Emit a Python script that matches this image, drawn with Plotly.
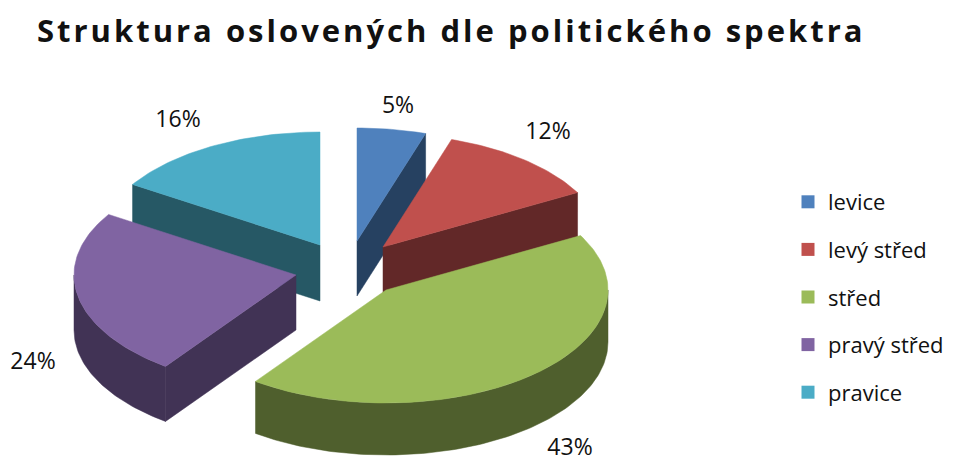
import numpy as np
import plotly.graph_objects as go

# --- data -------------------------------------------------------------
title_text = "Struktura oslovených dle politického spektra"
categories = ["levice", "levý střed", "střed", "pravý střed", "pravice"]
values = [5, 12, 43, 24, 16]

# --- styles -----------------------------------------------------------
top_colors = ["#4F81BD", "#C0504D", "#9BBB59", "#8064A2", "#4BACC6"]
wall_colors = ["#264161", "#622828", "#4F5F2D", "#413355", "#265865"]
apex_x = [357, 383, 386, 296, 320]
apex_y = [241, 247, 290, 275, 245]
depths = [55, 55, 52, 55, 56]
label_x = [398, 548, 570, 33, 178]
label_y = [107, 133, 449, 363, 121]
draw_order = [0, 4, 1, 3, 2]
RX, RY = 222, 113
FONT = "Open Sans"
INK = "#111111"

fractions = np.array(values) / sum(values) * 2 * np.pi
ends = np.cumsum(fractions)
starts = ends - fractions


def rim(cx, cy, a, b):
    n = max(2, int(abs(b - a) / 0.02))
    t = np.linspace(a, b, n)
    return cx + RX * np.sin(t), cy - RY * np.cos(t)


def polygon(xs, ys, color):
    return go.Scatter(x=list(xs) + [xs[0]], y=list(ys) + [ys[0]], mode="lines",
                      fill="toself", fillcolor=color,
                      line=dict(color=color, width=0.5),
                      hoverinfo="skip", showlegend=False)


fig = go.Figure()
for i in draw_order:
    cx, cy, a, b = apex_x[i], apex_y[i], starts[i], ends[i]
    wall = wall_colors[i]
    depth = depths[i]
    # radial walls that face the viewer
    for edge, visible in ((a, np.sin(a) < -1e-6), (b, np.sin(b) > 1e-6)):
        if visible:
            ex, ey = rim(cx, cy, edge, edge)
            ex, ey = ex[0], ey[0]
            fig.add_trace(polygon([cx, ex, ex, cx], [cy, ey, ey + depth, cy + depth], wall))
    # outer curved wall: only the part on the front half of the ellipse
    lo, hi = max(a, np.pi / 2), min(b, 3 * np.pi / 2)
    if hi > lo:
        x, y = rim(cx, cy, lo, hi)
        fig.add_trace(polygon(np.r_[x, x[::-1]], np.r_[y, y[::-1] + depth], wall))
    # top face
    x, y = rim(cx, cy, a, b)
    fig.add_trace(polygon(np.r_[cx, x], np.r_[cy, y], top_colors[i]))

# percentage labels
fig.add_trace(go.Scatter(x=label_x, y=label_y, mode="text",
                         text=[f"{v}%" for v in values],
                         textfont=dict(family=FONT, size=23, color=INK),
                         textposition="middle center",
                         hoverinfo="skip", showlegend=False))

# legend entries
for name, color in zip(categories, top_colors):
    fig.add_trace(go.Scatter(x=[None], y=[None], mode="markers", name=name, legendgroup=name,
                             marker=dict(symbol="square", size=13, color=color)))

fig.update_layout(
    width=955, height=461,
    margin=dict(l=0, r=0, t=0, b=0),
    paper_bgcolor="white", plot_bgcolor="white",
    title=dict(text=f"<b>{title_text}</b>", x=37 / 955, xanchor="left",
               y=1 - 31 / 461, yanchor="middle",
               font=dict(family=FONT, size=31, color=INK)),
    xaxis=dict(visible=False, range=[0, 955], fixedrange=True),
    yaxis=dict(visible=False, range=[461, 0], fixedrange=True),
    showlegend=True,
    legend=dict(x=788 / 955, y=1 - 181 / 461, xanchor="left", yanchor="top",
                tracegroupgap=16, itemwidth=30, bgcolor="rgba(0,0,0,0)",
                font=dict(family=FONT, size=22, color=INK)),
)
fig.write_html(
    "out.html",
    config={"displayModeBar": False},
    post_script=(
        "document.documentElement.style.margin='0';document.body.style.margin='0';"
        "document.documentElement.style.overflow='hidden';"
        "document.querySelectorAll('.gtitle').forEach(function(t){t.style.letterSpacing='3px';});"
    ),
)
